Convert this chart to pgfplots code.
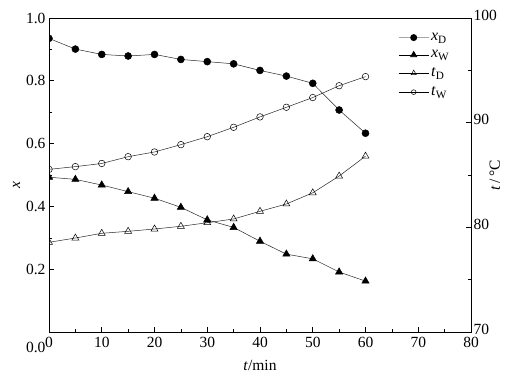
\documentclass[border=0pt]{standalone}
\usepackage{fontspec}
\setmainfont{Liberation Serif}
\usepackage{pgfplots}
\pgfplotsset{compat=1.18}
\begin{document}
\begin{tikzpicture}
\pgfplotsset{every axis/.append style={
  scale only axis, width=422pt, height=314pt,
  xmin=0, xmax=80,
  tick align=inside, major tick length=5pt, minor tick length=3pt,
  every tick/.style={black, line width=0.6pt},
  axis line style={line width=0.8pt},
  font=\fontsize{15.5}{17}\selectfont,
  /pgf/number format/assume math mode=true,
  clip marker paths=true,
}}
\begin{axis}[name=main,
  ymin=0, ymax=1,
  xtick={0,10,...,80}, minor x tick num=1,
  ytick={0.2,0.4,0.6,0.8,1.0}, minor y tick num=1,
  yticklabel style={/pgf/number format/fixed, /pgf/number format/fixed zerofill, /pgf/number format/precision=1},
  extra y ticks={0}, extra y tick labels={0.0},
  extra y tick style={yticklabel style={yshift=-15pt}},
  xticklabel style={yshift=-2pt},
  tick pos=left,
  xlabel={\textit{t}/min},
  xlabel style={yshift=-5pt},
  ylabel={\textit{x}},
  ylabel style={yshift=-1pt, xshift=-10pt},
  legend style={draw=none, fill=none, at={(0.82,0.965)}, anchor=north west,
    row sep=4.5pt, font=\fontsize{16}{17}\selectfont},
  legend cell align=left,
  legend image code/.code={\draw[mark repeat=2,mark phase=2,#1] plot coordinates {(0pt,0pt) (15pt,0pt) (30pt,0pt)};},
]
\addlegendimage{gray!70, line width=0.9pt, mark=*, mark size=3pt, mark options={black, fill=black}}
\addlegendentry{\textit{x}\textsubscript{D}}
\addlegendimage{black, line width=0.7pt, mark=triangle*, mark size=3.5pt, mark options={fill=black}}
\addlegendentry{\textit{x}\textsubscript{W}}
\addlegendimage{black, line width=0.5pt, mark=triangle, mark size=3pt}
\addlegendentry{\textit{t}\textsubscript{D}}
\addlegendimage{black, line width=0.5pt, mark=o, mark size=2.4pt}
\addlegendentry{\textit{t}\textsubscript{W}}
\addplot[black!85, line width=0.5pt, mark=*, mark size=3.5pt, mark options={black, fill=black}, forget plot] coordinates {
(0,0.935)(5,0.901)(10,0.884)(15,0.879)(20,0.884)(25,0.868)(30,0.861)(35,0.854)(40,0.833)(45,0.815)(50,0.792)(55,0.707)(60,0.633)};
\addplot[black!85, line width=0.5pt, mark=triangle*, mark size=4.2pt, mark options={black, fill=black}, forget plot] coordinates {
(0,0.493)(5,0.486)(10,0.468)(15,0.447)(20,0.426)(25,0.397)(30,0.357)(35,0.333)(40,0.289)(45,0.248)(50,0.233)(55,0.191)(60,0.162)};
\end{axis}
\begin{axis}[
  ymin=70, ymax=100,
  axis y line*=right, axis x line=none,
  ytick={70,80,90,100}, minor y tick num=1,
  yticklabel style={xshift=-1pt, yshift=3pt},
  ylabel={\textit{t}\,/\,°C},
  ylabel style={yshift=14pt},
]
\addplot[black!85, line width=0.5pt, mark=triangle, mark size=4pt, mark options={black, fill=white, line width=0.5pt}] coordinates {
(0,78.57)(5,78.98)(10,79.43)(15,79.62)(20,79.84)(25,80.1)(30,80.44)(35,80.8)(40,81.53)(45,82.23)(50,83.3)(55,84.9)(60,86.8)};
\addplot[black!85, line width=0.5pt, mark=o, mark size=3.3pt, mark options={black, fill=white, line width=0.5pt}] coordinates {
(0,85.54)(5,85.8)(10,86.1)(15,86.75)(20,87.2)(25,87.9)(30,88.66)(35,89.56)(40,90.55)(45,91.47)(50,92.4)(55,93.53)(60,94.4)};
\end{axis}
\path (main.south west) ++(-49pt,-48pt);
\path (main.north east) ++(42pt,18pt);
\end{tikzpicture}
\end{document}
